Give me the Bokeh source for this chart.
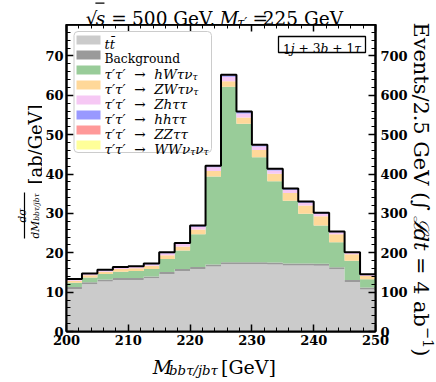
import glob, os, math
import numpy as np
from bokeh.plotting import figure
from bokeh.layouts import row, column
from bokeh.models import Range1d, LinearAxis, FixedTicker, Label, BoxAnnotation
from bokeh.embed import file_html
from bokeh.resources import INLINE

# ---------------- data ----------------
bin_edges = [200.0, 202.5, 205.0, 207.5, 210.0, 212.5, 215.0, 217.5, 220.0, 222.5, 225.0,
             227.5, 230.0, 232.5, 235.0, 237.5, 240.0, 242.5, 245.0, 247.5, 250.0]
ttbar = [10.8, 12.0, 12.7, 13.1, 13.1, 13.5, 14.6, 15.4, 15.9, 16.5, 17.1, 17.1, 17.1, 17.0, 16.8, 16.8, 16.7, 15.8, 12.6, 10.7]
background = [0.5, 0.5, 0.5, 0.5, 0.5, 0.5, 0.5, 0.5, 0.5, 0.5, 0.5, 0.5, 0.5, 0.5, 0.5, 0.5, 0.5, 0.5, 0.5, 0.5]
hW_taunu = [1.1, 1.2, 1.4, 1.6, 1.8, 1.9, 3.3, 4.7, 8.3, 22.4, 44.6, 35.2, 26.7, 20.7, 15.9, 12.6, 9.7, 6.4, 4.9, 2.1]
ZW_taunu = [0.5, 0.6, 0.6, 0.7, 0.7, 0.8, 1.0, 1.0, 1.2, 1.4, 1.4, 1.6, 1.8, 1.9, 2.0, 2.1, 2.4, 2.0, 1.6, 0.8]
Zh_tautau = [0.3, 0.3, 0.3, 0.3, 0.3, 0.4, 0.5, 0.6, 0.7, 0.9, 1.1, 1.0, 0.9, 0.8, 0.8, 0.7, 0.6, 0.5, 0.4, 0.3]
hh_tautau = [0.1, 0.1, 0.1, 0.1, 0.1, 0.1, 0.15, 0.2, 0.25, 0.3, 0.4, 0.35, 0.3, 0.3, 0.25, 0.2, 0.2, 0.15, 0.1, 0.1]
ZZ_tautau = [0.03, 0.03, 0.03, 0.03, 0.03, 0.03, 0.04, 0.05, 0.05, 0.06, 0.08, 0.07, 0.06, 0.06, 0.05, 0.05, 0.04, 0.04, 0.03, 0.03]
WW_nunu = [0.03, 0.03, 0.03, 0.03, 0.03, 0.03, 0.04, 0.05, 0.05, 0.06, 0.08, 0.07, 0.06, 0.06, 0.05, 0.05, 0.04, 0.04, 0.03, 0.03]

x_ticks = [200, 210, 220, 230, 240, 250]
y_ticks = [0, 10, 20, 30, 40, 50, 60, 70]
y2_ticks = [0, 100, 200, 300, 400, 500, 600, 700]

components = [
    (ttbar, "#cbcbcb"),
    (background, "#9a9a9a"),
    (hW_taunu, "#99cc99"),
    (ZW_taunu, "#ffd899"),
    (Zh_tautau, "#f6c8f4"),
    (hh_tautau, "#9999ff"),
    (ZZ_tautau, "#ff9999"),
    (WW_nunu, "#ffff99"),
]

# ---------------- geometry (page pixels) ----------------
FONT = "DejaVu Serif"
FL, FT, FW, FH = 63.0, 24.0, 309.0, 307.0
XMIN, XMAX, YMIN, YMAX = 200.0, 250.0, 0.0, 78.0
LW = 42
MBL, MBR = 21, 34


def dx(ax):
    return XMIN + (ax - FL) * (XMAX - XMIN) / FW


def dy(ay):
    return YMIN + (FT + FH - ay) * (YMAX - YMIN) / FH


# ---------------- font metrics ----------------
FONT_FILES = {"normal": ["DejaVuSerif.ttf"],
              "italic": ["DejaVuSerif-Italic.ttf", "DejaVuSerif.ttf"],
              "bold": ["DejaVuSerif-Bold.ttf"],
              "bold italic": ["DejaVuSerif-BoldItalic.ttf", "DejaVuSerif-Bold.ttf"]}
_fcache = {}


def _font(style):
    if style in _fcache:
        return _fcache[style]
    f = None
    try:
        from PIL import ImageFont
        for name in FONT_FILES[style]:
            for d in ["/usr/share/fonts", "/usr/local/share/fonts", os.path.expanduser("~/.fonts")]:
                hits = glob.glob(os.path.join(d, "**", name), recursive=True)
                if hits:
                    f = ImageFont.truetype(hits[0], 100)
                    break
            if f is not None:
                break
    except Exception:
        f = None
    _fcache[style] = f
    return f


def text_w(txt, size, style):
    if txt == "":
        return 0.0
    f = _font(style)
    if f is None:
        return 0.6 * size * len(txt)
    try:
        return f.getlength(txt) * size / 100.0
    except Exception:
        return 0.6 * size * len(txt)


def seg_w(seg, scale):
    t, r, st, _ = seg
    if t.startswith("@gap"):
        return float(t[4:]) * scale / 10.0
    return text_w(t, r * scale, st)


def segs_width(segs, scale):
    return sum(seg_w(s, scale) for s in segs)


def fit_scale(segs, target):
    return target / segs_width(segs, 1.0)


# ---------------- main figure ----------------
p = figure(frame_width=int(FW), frame_height=int(FH),
           x_range=Range1d(XMIN, XMAX), y_range=Range1d(YMIN, YMAX),
           min_border_left=MBL, min_border_right=MBR, min_border_top=0, min_border_bottom=19,
           x_axis_type=None, y_axis_type=None,
           output_backend="svg", toolbar_location=None)
p.background_fill_color = "white"
p.border_fill_color = "white"
p.outline_line_color = "black"
p.outline_line_width = 2
p.extra_y_ranges = {"events": Range1d(YMIN * 10, YMAX * 10)}

lower = np.zeros(len(ttbar))
for vals, col in components:
    upper = lower + np.array(vals)
    p.varea_step(x=bin_edges, y1=list(lower) + [lower[-1]], y2=list(upper) + [upper[-1]],
                 step_mode="after", fill_color=col, fill_alpha=1.0)
    lower = upper
total = list(lower) + [lower[-1]]
p.step(x=bin_edges, y=total, mode="after", line_color="black", line_width=2)


def style_axis(ax, standoff=5):
    ax.axis_line_width = 2
    ax.axis_line_color = "black"
    ax.major_tick_in = 7
    ax.major_tick_out = 0
    ax.minor_tick_in = 4
    ax.minor_tick_out = 0
    ax.major_tick_line_width = 1.5
    ax.minor_tick_line_width = 1
    ax.major_label_text_font = FONT
    ax.major_label_text_font_style = "bold"
    ax.major_label_text_font_size = "13px"
    ax.major_label_text_color = "black"
    ax.major_label_standoff = standoff


x_minor = list(np.arange(200, 251, 2))
xb = LinearAxis(ticker=FixedTicker(ticks=x_ticks, minor_ticks=x_minor))
style_axis(xb, standoff=3)
p.add_layout(xb, "below")
for tk, ln, lw in [(x_ticks, 7, 1.5), (x_minor, 4, 1)]:
    xt = LinearAxis(ticker=FixedTicker(ticks=[], minor_ticks=tk))
    xt.axis_line_width = 2
    xt.minor_tick_in = ln
    xt.minor_tick_out = 0
    xt.minor_tick_line_width = lw
    xt.major_tick_in = 0
    xt.major_tick_out = 0
    xt.major_label_standoff = 0
    p.add_layout(xt, "above")
yl = LinearAxis(ticker=FixedTicker(ticks=y_ticks, minor_ticks=list(np.arange(0, 79, 2))))
style_axis(yl, standoff=3)
p.add_layout(yl, "left")
yr = LinearAxis(y_range_name="events", ticker=FixedTicker(ticks=y2_ticks, minor_ticks=list(np.arange(0, 781, 20))))
style_axis(yr)
p.add_layout(yr, "right")


# ---------------- text helpers ----------------
def lab(fig, x, y, txt, size, style, angle=0.0, align="left"):
    fig.add_layout(Label(x=x, y=y, text=txt, text_font=FONT,
                         text_font_size=f"{size:.2f}px", text_font_style=style,
                         angle=angle, text_align=align, text_baseline="alphabetic",
                         text_color="black"))


def box(fig, x0, y0, x1, y1, fill, alpha=1.0, line=None, lw=1.0, radius=0):
    fig.add_layout(BoxAnnotation(left=x0, right=x1, top=y0, bottom=y1,
                                 fill_color=fill, fill_alpha=alpha,
                                 line_color=line, line_alpha=1.0 if line else 0.0,
                                 line_width=lw, border_radius=radius))


def _lead(t, size, st):
    s = t.lstrip(" ")
    return s, text_w(t[:len(t) - len(s)], size, st)


def place_h(fig, segs, scale, x0, base, conv=None):
    x = x0
    pos = []
    for seg in segs:
        t, r, st, d = seg
        w = seg_w(seg, scale)
        if not t.startswith("@gap"):
            s, sh = _lead(t, r * scale, st)
            bx, by = x + sh, base + d * scale
            if conv:
                bx, by = conv(bx, by)
            lab(fig, bx, by, s, r * scale, st)
        pos.append((x, w))
        x += w
    return pos


def place_h_right(fig, segs, scale, x_end, base):
    x = x_end
    for seg in reversed(segs):
        t, r, st, d = seg
        w = seg_w(seg, scale)
        if not t.startswith("@gap"):
            s = t.rstrip(" ")
            tr = text_w(t[len(s):], r * scale, st)
            lab(fig, x - tr, base + d * scale, s.lstrip(" "), r * scale, st, align="right")
        x -= w


def place_up(fig, segs, scale, y0, base_x):
    y = y0
    for seg in segs:
        t, r, st, d = seg
        if not t.startswith("@gap"):
            s, sh = _lead(t, r * scale, st)
            lab(fig, base_x + d * scale, y - sh, s, r * scale, st, angle=math.pi / 2)
        y -= seg_w(seg, scale)


def place_down(fig, segs, scale, y0, base_x):
    y = y0
    for seg in segs:
        t, r, st, d = seg
        if not t.startswith("@gap"):
            s, sh = _lead(t, r * scale, st)
            lab(fig, base_x - d * scale, y + sh, s, r * scale, st, angle=-math.pi / 2)
        y += seg_w(seg, scale)


def aux(width, height, x0, y0):
    f = figure(width=width, height=height, x_range=Range1d(x0, x0 + width),
               y_range=Range1d(y0 + height, y0), min_border=0,
               x_axis_type=None, y_axis_type=None,
               output_backend="svg", toolbar_location=None)
    f.outline_line_color = None
    f.background_fill_color = "white"
    f.border_fill_color = "white"
    return f


PW = MBL + int(FW) + MBR
left_fig = aux(LW, 380, 0, 0)
title_fig = aux(PW, 24, LW, 0)
xlab_fig = aux(PW, 30, LW, 350)
right_fig = aux(434 - LW - PW, 380, LW + PW, 0)

# ---------------- title ----------------
TS = 18.5
t_left = [("√", 1, "normal", 0), ("s", 1, "italic", 0), ("@gap5", 1, "normal", 0), ("=", 1, "normal", 0),
          ("@gap5", 1, "normal", 0), ("500 GeV,", 1, "normal", 0)]
t_right = [("M", 1, "italic", 0), ("τ′", 0.7, "italic", 0.2), ("@gap5", 1, "normal", 0),
           ("=", 1, "normal", 0), ("@gap5", 1, "normal", 0), ("225 GeV", 1, "normal", 0)]
T0, T1 = 65.0, 372.0
pos = place_h(title_fig, t_left, TS, T0, 18)
place_h_right(title_fig, t_right, TS, T1, 18)
sx0, sw = pos[1]
box(title_fig, sx0 - 0.3, 18 - 0.80 * TS - 1.1, sx0 + sw + 1, 18 - 0.80 * TS, "black")

# ---------------- x label ----------------
XS = 19.0
x_left = [("M", 1, "italic", 0), ("bbτ/jbτ", 0.7, "italic", 0.22)]
x_right = [("[GeV]", 1, "normal", 0)]
place_h(xlab_fig, x_left, XS, 145, 366)
place_h_right(xlab_fig, x_right, XS, 292, 366)

# ---------------- y label (left) ----------------
den = [("dM", 1, "italic", 0), ("bbτ/jbτ", 0.7, "italic", 0.18)]
ds = fit_scale(den, 45)
place_up(left_fig, den, ds, 238, 34.5)
box(left_fig, 23.4, 192, 24.6, 238, "black")
num = [("dσ", 1, "italic", 0)]
nw = segs_width(num, ds)
place_up(left_fig, num, ds, 215 + nw / 2, 21.5)
unit = [("[ab/GeV]", 1, "normal", 0)]
us = fit_scale(unit, 80)
place_up(left_fig, unit, us, 184, 35.3)

# ---------------- y label (right) ----------------
r_segs = [("Events/2.5 GeV (", 1, "normal", 0), ("∫", 1, "normal", 0), ("@gap2.5", 1, "normal", 0),
          ("ℒ", 1, "italic", 0), ("dt", 1, "italic", 0), (" = 4 ab", 1, "normal", 0),
          ("−1", 0.7, "normal", -0.38), (")", 1, "normal", 0)]
rs = fit_scale(r_segs, 334)
place_down(right_fig, r_segs, rs, 22, 416)


# ---------------- legend (inside main frame) ----------------
def pbox(x0, y0, x1, y1, fill, **kw):
    box(p, dx(x0), dy(y0), dx(x1), dy(y1), fill, **kw)


pbox(70.5, 31, 208, 152, "white", alpha=0.8, line="#cccccc", lw=1, radius=4)
L = 12.3
M = 1.1


def tau_entry(rest):
    return [("τ′τ′", M, "italic", 0), ("@gap7", 1, "normal", 0), ("→", M, "normal", 0),
            ("@gap7", 1, "normal", 0)] + rest


legend_entries = [
    [("t", 1.05, "italic", 0), ("t\u0304", 1.05, "italic", 0)],
    [("Background", 1, "normal", 0)],
    tau_entry([("hWτν", M, "italic", 0), ("τ", 0.75, "italic", 0.2)]),
    tau_entry([("ZWτν", M, "italic", 0), ("τ", 0.75, "italic", 0.2)]),
    tau_entry([("Zhττ", M, "italic", 0)]),
    tau_entry([("hhττ", M, "italic", 0)]),
    tau_entry([("ZZττ", M, "italic", 0)]),
    tau_entry([("WWν", M, "italic", 0), ("τ", 0.75, "italic", 0.2), ("ν", M, "italic", 0),
               ("τ", 0.75, "italic", 0.2)]),
]
to_data = lambda a, b: (dx(a), dy(b))
for i, (segs, (_, col)) in enumerate(zip(legend_entries, components)):
    cy = 39.5 + 15.0 * i
    pbox(73, cy - 4.5, 97, cy + 4.5, col)
    place_h(p, segs, L, 101, cy + 4.3, conv=to_data)

# ---------------- channel box ----------------
ch = [("1", 1, "normal", 0), ("j", 1, "italic", 0), (" + 3", 1, "normal", 0), ("b", 1, "italic", 0),
      (" + 1", 1, "normal", 0), ("τ", 1, "italic", 0)]
cs = fit_scale(ch, 78)
cw = segs_width(ch, cs)
pbox(275, 36, 362, 52, "white", line="black", lw=1.3)
place_h(p, ch, cs, 318.5 - cw / 2, 48, conv=to_data)

layout = row(left_fig, column(title_fig, p, xlab_fig), right_fig)
open("out.html", "w").write(file_html(layout, INLINE))
